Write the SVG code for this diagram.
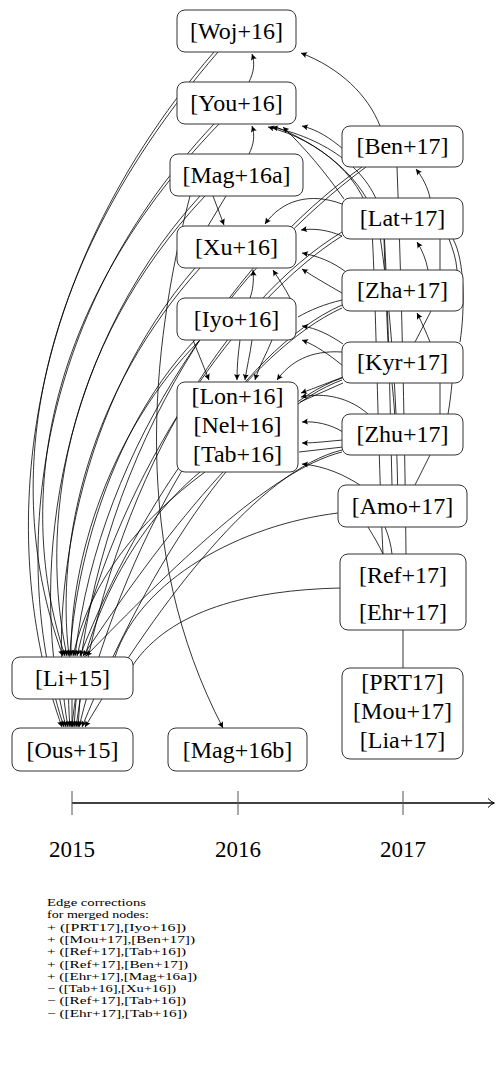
<svg xmlns="http://www.w3.org/2000/svg" width="496" height="1083" viewBox="0 0 496 1083">
  <style>
    .e { fill: none; stroke: #000; stroke-width: 0.8; }
    .a { marker-end: url(#ah); }
    .box { fill: #fff; stroke: #333; stroke-width: 1; }
    .lbl { font-family: "Liberation Serif", "DejaVu Serif", serif; font-size: 24px; text-anchor: middle; fill: #000; }
    .yr { font-family: "Liberation Serif", "DejaVu Serif", serif; font-size: 23px; text-anchor: middle; fill: #000; }
    .leg { font-family: "Liberation Serif", "DejaVu Serif", serif; font-size: 11px; fill: #000; }
    .tick { stroke: #555; stroke-width: 1; }
  </style>
  <defs>
    <marker id="ah" viewBox="-7 -4 8 8" refX="0" refY="0" markerWidth="8" markerHeight="8" markerUnits="userSpaceOnUse" orient="auto">
      <path d="M0,0 L-6,-3 Q-4,0 -6,3 Z" fill="#000"/>
    </marker>
  </defs>
  <rect width="496" height="1083" fill="#fff"/>

  <!-- citation edges (drawn under the nodes) -->
  <g id="edges">
    <!-- fan into [Li+15] and [Ous+15] -->
    <path class="e a" d="M 214 52 C 0 300, 5 570, 62 727"/>
    <path class="e a" d="M 218 52 C 5 300, 12 520, 63 656"/>
    <path class="e a" d="M 214 124 C 20 330, 15 580, 64 727"/>
    <path class="e a" d="M 219 124 C 30 320, 20 520, 65 656"/>
    <path class="e a" d="M 200 196 C 50 360, 30 590, 66 727"/>
    <path class="e a" d="M 205 196 C 60 350, 40 530, 67 656"/>
    <path class="e a" d="M 195 268 C 80 400, 45 600, 68 727"/>
    <path class="e a" d="M 200 268 C 90 390, 55 540, 69 656"/>
    <path class="e a" d="M 195 340 C 100 440, 60 610, 70 727"/>
    <path class="e a" d="M 200 340 C 110 430, 70 560, 71 656"/>
    <path class="e a" d="M 200 472 C 130 530, 80 630, 72 727"/>
    <path class="e a" d="M 205 472 C 140 520, 90 580, 73 656"/>
    <path class="e a" d="M 362 167 C 230 260, 90 460, 74 727"/>
    <path class="e a" d="M 366 167 C 240 260, 100 440, 75 656"/>
    <path class="e a" d="M 342 232 C 230 300, 110 480, 76 727"/>
    <path class="e a" d="M 342 236 C 240 300, 120 470, 77 656"/>
    <path class="e a" d="M 342 305 C 240 350, 130 520, 79 727"/>
    <path class="e a" d="M 342 308 C 250 350, 140 500, 80 656"/>
    <path class="e a" d="M 342 378 C 250 410, 150 560, 82 727"/>
    <path class="e a" d="M 342 380 C 260 410, 160 540, 83 656"/>
    <path class="e a" d="M 342 450 C 260 470, 160 600, 85 727"/>
    <path class="e a" d="M 342 452 C 270 470, 170 570, 86 656"/>
    <path class="e" d="M 338 513 C 240 525, 140 580, 115 657"/>
    <path class="e" d="M 340 588 C 250 590, 170 610, 133 665"/>
    <path class="e a" d="M 72 699 L 72 727"/>
    <path class="e a" d="M 80 699 L 78 727"/>
    <!-- [Mag+16a] to [Mag+16b] -->
    <path class="e a" d="M 190 196 C 150 350, 130 550, 223 728"/>

    <!-- within the 2016 column -->
    <path class="e a" d="M 249 82 C 254 72, 255 63, 252 54"/>
    <path class="e a" d="M 249 154 C 254 144, 255 135, 252 126"/>
    <path class="e a" d="M 213 196 L 224 225"/>
    <path class="e" d="M 226 196 L 208 226"/>
    <path class="e a" d="M 250 298 C 253 290, 254 280, 253 270"/>
    <path class="e a" d="M 290 298 C 285 288, 278 278, 273 270"/>
    <path class="e a" d="M 193 340 L 209 380"/>
    <path class="e a" d="M 240 340 C 238 355, 237 366, 237 380"/>
    <path class="e a" d="M 252 340 C 250 355, 247 366, 245 380"/>
    <path class="e a" d="M 272 340 C 266 355, 259 366, 255 380"/>

    <!-- 2017 column into the 2016 column -->
    <path class="e a" d="M 380 126 C 368 95, 340 68, 301 53"/>
    <path class="e a" d="M 343 149 C 330 138, 318 130, 302 126"/>
    <path class="e a" d="M 344 199 C 325 172, 305 148, 283 127"/>
    <path class="e a" d="M 392 485 C 390 400, 388 300, 384 230 C 380 175, 330 140, 272 127"/>
    <path class="e a" d="M 383 554 C 378 450, 376 300, 372 230 C 368 180, 320 140, 268 127"/>
    <path class="e" d="M 396 414 C 393 350, 388 290, 380 236 C 372 185, 328 148, 276 127"/>
    <path class="e a" d="M 342 204 C 310 192, 282 200, 265 224"/>
    <path class="e a" d="M 342 236 C 328 230, 314 228, 301 230"/>
    <path class="e a" d="M 346 272 C 333 262, 318 256, 302 253"/>
    <path class="e a" d="M 342 293 C 328 285, 314 277, 302 269"/>
    <path class="e" d="M 342 300 C 325 304, 310 310, 298 317"/>
    <path class="e a" d="M 343 344 C 330 335, 316 328, 302 326"/>
    <path class="e a" d="M 343 366 C 330 355, 315 345, 302 340"/>
    <path class="e a" d="M 342 352 C 310 350, 290 362, 277 380"/>
    <path class="e a" d="M 343 377 C 330 382, 315 388, 301 393"/>
    <path class="e" d="M 300 402 L 343 383"/>
    <path class="e a" d="M 368 414 C 350 398, 325 392, 301 397"/>
    <path class="e a" d="M 343 432 C 330 424, 315 421, 302 422"/>
    <path class="e a" d="M 343 440 C 330 441, 316 443, 302 443"/>
    <path class="e" d="M 299 452 L 343 447"/>
    <path class="e a" d="M 363 487 C 345 475, 325 466, 302 464"/>

    <!-- within the 2017 column -->
    <path class="e a" d="M 430 198 C 428 188, 423 178, 416 169"/>
    <path class="e" d="M 406 554 C 405 450, 402 300, 397 167"/>
    <path class="e a" d="M 428 270 C 426 259, 422 250, 417 242"/>
    <path class="e" d="M 440 239 L 440 270"/>
    <path class="e" d="M 449 239 C 453 250, 456 258, 457 270"/>
    <path class="e a" d="M 430 342 C 426 332, 422 323, 417 313"/>
    <path class="e" d="M 431 311 L 415 342"/>
    <path class="e" d="M 460 342 C 465 310, 465 260, 453 239"/>
    <path class="e" d="M 388 342 C 386 300, 385 270, 384 239"/>
    <path class="e" d="M 440 383 L 440 414"/>
    <path class="e" d="M 452 383 C 451 393, 450 403, 448 414"/>
    <path class="e" d="M 430 455 L 415 485"/>
    <path class="e" d="M 398 527 C 398 470, 396 420, 392 383"/>
    <path class="e" d="M 368 527 C 374 537, 379 545, 383 554"/>
    <path class="e" d="M 385 527 C 389 537, 391 545, 392 554"/>
    <path class="e" d="M 403 630 L 403 668"/>
  </g>

  <!-- 2016 column -->
  <g id="n-woj16"><rect class="box" x="177" y="10" width="119" height="42" rx="8"/><text class="lbl" x="236.5" y="39">[Woj+16]</text></g>
  <g id="n-you16"><rect class="box" x="177" y="82" width="119" height="42" rx="8"/><text class="lbl" x="236.5" y="111">[You+16]</text></g>
  <g id="n-mag16a"><rect class="box" x="170" y="154" width="133" height="42" rx="8"/><text class="lbl" x="236.5" y="183">[Mag+16a]</text></g>
  <g id="n-xu16"><rect class="box" x="177" y="226" width="119" height="42" rx="8"/><text class="lbl" x="236.5" y="255">[Xu+16]</text></g>
  <g id="n-iyo16"><rect class="box" x="177" y="298" width="119" height="42" rx="8"/><text class="lbl" x="236.5" y="327">[Iyo+16]</text></g>
  <g id="n-lon16"><rect class="box" x="177" y="382" width="121" height="90" rx="8"/>
    <text class="lbl" x="237.5" y="404">[Lon+16]</text>
    <text class="lbl" x="237.5" y="433">[Nel+16]</text>
    <text class="lbl" x="237.5" y="462">[Tab+16]</text></g>
  <g id="n-mag16b"><rect class="box" x="168" y="728" width="139" height="43" rx="8"/><text class="lbl" x="237.5" y="758">[Mag+16b]</text></g>

  <!-- 2017 column -->
  <g id="n-ben17"><rect class="box" x="342" y="126" width="121" height="41" rx="8"/><text class="lbl" x="402.5" y="154">[Ben+17]</text></g>
  <g id="n-lat17"><rect class="box" x="342" y="198" width="121" height="41" rx="8"/><text class="lbl" x="402.5" y="226">[Lat+17]</text></g>
  <g id="n-zha17"><rect class="box" x="342" y="270" width="121" height="41" rx="8"/><text class="lbl" x="402.5" y="298">[Zha+17]</text></g>
  <g id="n-kyr17"><rect class="box" x="342" y="342" width="121" height="41" rx="8"/><text class="lbl" x="402.5" y="370">[Kyr+17]</text></g>
  <g id="n-zhu17"><rect class="box" x="342" y="414" width="121" height="41" rx="8"/><text class="lbl" x="402.5" y="442">[Zhu+17]</text></g>
  <g id="n-amo17"><rect class="box" x="338" y="485" width="129" height="42" rx="8"/><text class="lbl" x="402.5" y="514">[Amo+17]</text></g>
  <g id="n-ref17"><rect class="box" x="340" y="554" width="126" height="76" rx="8"/>
    <text class="lbl" x="403" y="583">[Ref+17]</text>
    <text class="lbl" x="403" y="620">[Ehr+17]</text></g>
  <g id="n-prt17"><rect class="box" x="342" y="668" width="121" height="91" rx="8"/>
    <text class="lbl" x="402.5" y="690">[PRT17]</text>
    <text class="lbl" x="402.5" y="719">[Mou+17]</text>
    <text class="lbl" x="402.5" y="748">[Lia+17]</text></g>

  <!-- 2015 column -->
  <g id="n-li15"><rect class="box" x="12" y="657" width="121" height="42" rx="8"/><text class="lbl" x="72.5" y="686">[Li+15]</text></g>
  <g id="n-ous15"><rect class="box" x="12" y="728" width="121" height="43" rx="8"/><text class="lbl" x="72.5" y="758">[Ous+15]</text></g>

  <!-- time axis -->
  <g id="axis">
    <line x1="72" y1="803" x2="494" y2="803" stroke="#000" stroke-width="1.3"/>
    <path d="M 488 798.5 Q 491 802 494.5 803 Q 491 804 488 807.5" fill="none" stroke="#000" stroke-width="1"/>
    <line class="tick" x1="72" y1="791" x2="72" y2="815"/>
    <line class="tick" x1="238" y1="791" x2="238" y2="815"/>
    <line class="tick" x1="403" y1="791" x2="403" y2="815"/>
    <text class="yr" x="72" y="857">2015</text>
    <text class="yr" x="238" y="857">2016</text>
    <text class="yr" x="403" y="857">2017</text>
  </g>

  <!-- legend -->
  <g id="legend" class="leg">
    <text x="47" y="906" textLength="99" lengthAdjust="spacingAndGlyphs">Edge corrections</text>
    <text x="47" y="918.3" textLength="102" lengthAdjust="spacingAndGlyphs">for merged nodes:</text>
    <text x="47" y="930.6" textLength="139" lengthAdjust="spacingAndGlyphs">+ ([PRT17],[Iyo+16])</text>
    <text x="47" y="942.9" textLength="148" lengthAdjust="spacingAndGlyphs">+ ([Mou+17],[Ben+17])</text>
    <text x="47" y="955.2" textLength="139" lengthAdjust="spacingAndGlyphs">+ ([Ref+17],[Tab+16])</text>
    <text x="47" y="967.5" textLength="141" lengthAdjust="spacingAndGlyphs">+ ([Ref+17],[Ben+17])</text>
    <text x="47" y="979.8" textLength="150" lengthAdjust="spacingAndGlyphs">+ ([Ehr+17],[Mag+16a])</text>
    <text x="47" y="992.1" textLength="129" lengthAdjust="spacingAndGlyphs">− ([Tab+16],[Xu+16])</text>
    <text x="47" y="1004.4" textLength="139" lengthAdjust="spacingAndGlyphs">− ([Ref+17],[Tab+16])</text>
    <text x="47" y="1016.7" textLength="140" lengthAdjust="spacingAndGlyphs">− ([Ehr+17],[Tab+16])</text>
  </g>
</svg>
